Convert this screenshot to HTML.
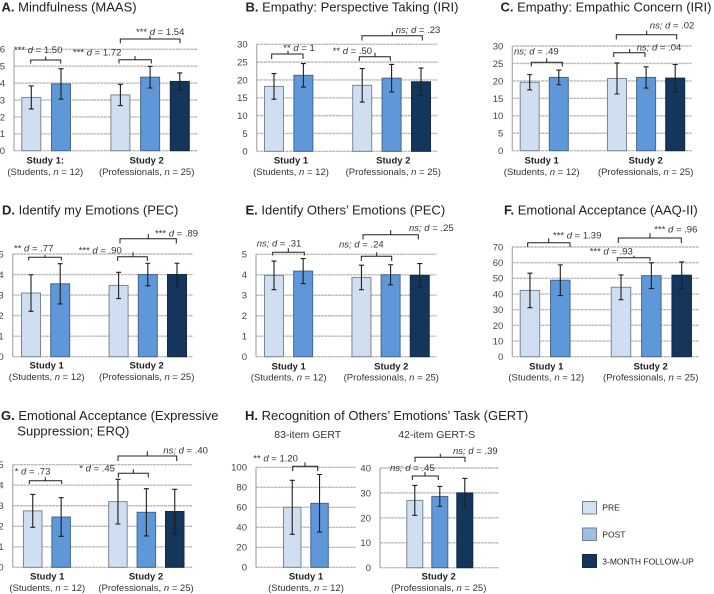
<!DOCTYPE html>
<html lang="en">
<head>
<meta charset="utf-8">
<title>Training outcome bar charts</title>
<style>
html,body{margin:0;padding:0;background:#fff}
svg{display:block;font-family:"Liberation Sans",Arial,sans-serif;filter:blur(.3px)}
.t{font-size:13px;fill:#222}
.t b,.tb{font-weight:bold}
.sub{font-size:10.5px;fill:#333}
.sb{font-size:9.5px;font-weight:bold;fill:#222;text-anchor:middle}
.sn{font-size:9.5px;fill:#333;text-anchor:middle}
.an{font-size:9.5px;fill:#333}
.i{font-style:italic}
.br{fill:none;stroke:#1c1c1c;stroke-width:1}
.lg{font-size:8.5px;fill:#222}
</style>
</head>
<body>
<svg id="chart" xmlns="http://www.w3.org/2000/svg" width="714" height="594" viewBox="0 0 714 594">
<g id="marks"></g>

<text class="t" x="1.5" y="11.5"><tspan class="tb">A.</tspan> Mindfulness (MAAS)</text>
<text class="t" x="245.5" y="11.5"><tspan class="tb">B.</tspan> Empathy: Perspective Taking (IRI)</text>
<text class="t" x="500.5" y="11.5"><tspan class="tb">C.</tspan> Empathy: Empathic Concern (IRI)</text>
<text class="t" x="2" y="214.5"><tspan class="tb">D.</tspan> Identify my Emotions (PEC)</text>
<text class="t" x="245.5" y="214.5"><tspan class="tb">E.</tspan> Identify Others’ Emotions (PEC)</text>
<text class="t" x="504" y="214.5"><tspan class="tb">F.</tspan> Emotional Acceptance (AAQ-II)</text>
<text class="t" x="1" y="420"><tspan class="tb">G.</tspan> Emotional Acceptance (Expressive</text>
<text class="t" x="17.3" y="435.5">Suppression; ERQ)</text>
<text class="t" x="245" y="420"><tspan class="tb">H.</tspan> Recognition of Others’ Emotions’ Task (GERT)</text>
<text class="sub" x="274.3" y="438">83-item GERT</text>
<text class="sub" x="398.3" y="438">42-item GERT-S</text>

<!-- Study labels -->
<text class="sb" x="45.3" y="163.5">Study 1:</text>
<text class="sn" x="45.3" y="175">(Students, <tspan class="i">n</tspan> = 12)</text>
<text class="sb" x="146.7" y="163.5">Study 2</text>
<text class="sn" x="146.7" y="175">(Professionals, <tspan class="i">n</tspan> = 25)</text>

<text class="sb" x="291" y="163.5">Study 1</text>
<text class="sn" x="291" y="175">(Students, <tspan class="i">n</tspan> = 12)</text>
<text class="sb" x="393.3" y="163.5">Study 2</text>
<text class="sn" x="393.3" y="175">(Professionals, <tspan class="i">n</tspan> = 25)</text>

<text class="sb" x="541.7" y="163.5">Study 1</text>
<text class="sn" x="541.7" y="175">(Students, <tspan class="i">n</tspan> = 12)</text>
<text class="sb" x="645.7" y="163.5">Study 2</text>
<text class="sn" x="645.7" y="175">(Professionals, <tspan class="i">n</tspan> = 25)</text>

<text class="sb" x="46.7" y="368.5">Study 1</text>
<text class="sn" x="46.7" y="380">(Students, <tspan class="i">n</tspan> = 12)</text>
<text class="sb" x="146.7" y="368.5">Study 2</text>
<text class="sn" x="146.7" y="380">(Professionals, <tspan class="i">n</tspan> = 25)</text>

<text class="sb" x="288.7" y="369.3">Study 1</text>
<text class="sn" x="288.7" y="380.7">(Students, <tspan class="i">n</tspan> = 12)</text>
<text class="sb" x="391.3" y="369.3">Study 2</text>
<text class="sn" x="391.3" y="380.7">(Professionals, <tspan class="i">n</tspan> = 25)</text>

<text class="sb" x="546.3" y="369.3">Study 1</text>
<text class="sn" x="546.3" y="380.7">(Students, <tspan class="i">n</tspan> = 12)</text>
<text class="sb" x="650.7" y="369.3">Study 2</text>
<text class="sn" x="650.7" y="380.7">(Professionals, <tspan class="i">n</tspan> = 25)</text>

<text class="sb" x="47.3" y="579.5">Study 1</text>
<text class="sn" x="47.3" y="591">(Students, <tspan class="i">n</tspan> = 12)</text>
<text class="sb" x="146" y="579.5">Study 2</text>
<text class="sn" x="146" y="591">(Professionals, <tspan class="i">n</tspan> = 25)</text>

<text class="sb" x="306" y="579.5">Study 1</text>
<text class="sn" x="306" y="591">(Students, <tspan class="i">n</tspan> = 12)</text>
<text class="sb" x="438.7" y="579.5">Study 2</text>
<text class="sn" x="438.7" y="591">(Professionals, <tspan class="i">n</tspan> = 25)</text>

<!-- Brackets -->
<path class="br" d="M30.7 63.5V60H60.7V63.5M45.7 60V56.5"/>
<path class="br" d="M119 63.5V59.7H151.3V63.5M135 59.7V56"/>
<path class="br" d="M120.3 43.3V39H180V43.3M150 39V35.7"/>
<path class="br" d="M271.7 59V54H303V59M288 54V50.7"/>
<path class="br" d="M359.3 61V56.7H390.3V61M375 56.7V52.7"/>
<path class="br" d="M362 40.5V35.7H422.3V40.5M392.3 35.7V31.7"/>
<path class="br" d="M531.3 66.5V62.3H562.3V66.5M546.7 62.3V58.3"/>
<path class="br" d="M613.7 57V52.7H645V57M629.7 52.7V49"/>
<path class="br" d="M616.3 39.5V34.7H676.7V39.5M646.7 34.7V30.7"/>
<path class="br" d="M28.7 260.5V257.3H61.3V260.5M45 257.3V255"/>
<path class="br" d="M117.7 261V256.7H147.3V261M133 256.7V252.3"/>
<path class="br" d="M120 243.5V238.7H176.3V243.5M148.3 238.7V234"/>
<path class="br" d="M272.7 255.5V252.3H304.3V255.5M288.3 252.3V248.3"/>
<path class="br" d="M361.3 261V256.3H391.7V261M376.7 256.3V252.3"/>
<path class="br" d="M363 239.5V234.7H418.3V239.5M390.7 234.7V230"/>
<path class="br" d="M527.7 247V242.7H570V247M548.7 242.7V238.3"/>
<path class="br" d="M617.3 261V257.7H650V261M634 257.7V255.7"/>
<path class="br" d="M618.3 243V238H681.3V243M650 238V233.3"/>
<path class="br" d="M29.3 484V480.7H61.7V484M45.3 480.7V477.3"/>
<path class="br" d="M118.3 477.5V473.3H148.3V477.5M133.3 473.3V469.3"/>
<path class="br" d="M118 461V456H176.7V461M147.3 456V451.3"/>
<path class="br" d="M292.7 471V466.3H317.7V471M305 466.3V462.3"/>
<path class="br" d="M412.3 480V476H438.3V480M425 476V472"/>
<path class="br" d="M415 462V457.3H465V462M440.3 457.3V453.7"/>

<!-- Effect-size annotations -->
<text class="an" x="14" y="53">*** <tspan class="i">d</tspan> = 1.50</text>
<text class="an" x="73" y="55.7">*** <tspan class="i">d</tspan> = 1.72</text>
<text class="an" x="136" y="35">*** <tspan class="i">d</tspan> = 1.54</text>
<text class="an" x="283.3" y="51">** <tspan class="i">d</tspan> = 1</text>
<text class="an" x="332.7" y="54">** <tspan class="i">d</tspan> = .50</text>
<text class="an" x="395.7" y="33"><tspan class="i">ns; d</tspan> = .23</text>
<text class="an" x="514" y="54.7"><tspan class="i">ns; d</tspan> = .49</text>
<text class="an" x="636.7" y="50.3"><tspan class="i">ns; d</tspan> = .04</text>
<text class="an" x="649.7" y="28.3"><tspan class="i">ns; d</tspan> = .02</text>
<text class="an" x="14" y="251.7">** <tspan class="i">d</tspan> = .77</text>
<text class="an" x="78.7" y="253.3">*** <tspan class="i">d</tspan> = .90</text>
<text class="an" x="155" y="236.3">*** <tspan class="i">d</tspan> = .89</text>
<text class="an" x="256.7" y="246.7"><tspan class="i">ns; d</tspan> = .31</text>
<text class="an" x="339" y="247.7"><tspan class="i">ns; d</tspan> = .24</text>
<text class="an" x="409" y="231"><tspan class="i">ns; d</tspan> = .25</text>
<text class="an" x="553" y="238.3">*** <tspan class="i">d</tspan> = 1.39</text>
<text class="an" x="589.7" y="254.3">*** <tspan class="i">d</tspan> = .93</text>
<text class="an" x="654.3" y="232.3">*** <tspan class="i">d</tspan> = .96</text>
<text class="an" x="14.7" y="474.7">* <tspan class="i">d</tspan> = .73</text>
<text class="an" x="79.3" y="471.3">* <tspan class="i">d</tspan> = .45</text>
<text class="an" x="163.3" y="453.3"><tspan class="i">ns; d</tspan> = .40</text>
<text class="an" x="253.3" y="461.3">** <tspan class="i">d</tspan> = 1.20</text>
<text class="an" x="390" y="471"><tspan class="i">ns; d</tspan> = .45</text>
<text class="an" x="453" y="454"><tspan class="i">ns; d</tspan> = .39</text>

<!-- Legend -->
<g>
<rect x="582.5" y="501.5" width="14" height="12.5" fill="#d3e2f3" stroke="#77808a"/>
<text class="lg" x="602.3" y="510.7">PRE</text>
<rect x="582.5" y="528" width="14" height="12.5" fill="#9dbfe6" stroke="#6f8298"/>
<text class="lg" x="602.3" y="537.3">POST</text>
<rect x="582.5" y="554.5" width="14" height="13" fill="#14365a" stroke="#102a48"/>
<text class="lg" x="602.3" y="564.3">3-MONTH FOLLOW-UP</text>
</g>
</svg>

<script>
// Chart data
const conditions = ['pre', 'post', 'pre', 'post', 'followup'];
const studies = [1, 1, 2, 2, 2];

const ticksA = ['0', '1', '2', '3', '4', '5', '6'];
const meansA = [3.15, 3.95, 3.3, 4.35, 4.1];
const errorsA = [0.68, 0.9, 0.63, 0.64, 0.5];

const ticksB = ['0', '5', '10', '15', '20', '25', '30'];
const meansB = [18.2, 21.3, 18.5, 20.5, 19.5];
const errorsB = [3.6, 3.3, 4.7, 3.85, 3.85];

const ticksC = ['0', '5', '10', '15', '20', '25', '30'];
const meansC = [19.6, 21, 20.7, 21, 20.8];
const errorsC = [2.2, 2.1, 4.45, 3.05, 3.9];

const ticksD = ['0', '1', '2', '3', '4', '5'];
const meansD = [3.1, 3.55, 3.47, 4.0, 4.0];
const errorsD = [0.89, 0.98, 0.64, 0.55, 0.55];

const ticksE = ['0', '1', '2', '3', '4', '5'];
const meansE = [3.97, 4.18, 3.87, 4.0, 3.97];
const errorsE = [0.7, 0.61, 0.6, 0.49, 0.58];

const ticksF = ['0', '10', '20', '30', '40', '50', '60', '70'];
const meansF = [42.3, 48.8, 44.3, 51.7, 52];
const errorsF = [11, 9.8, 7.9, 8.2, 8.5];

const ticksG = ['0', '1', '2', '3', '4', '5'];
const meansG = [2.75, 2.45, 3.2, 2.68, 2.72];
const errorsG = [0.8, 0.94, 1.09, 1.15, 1.08];

const conditionsH1 = ['pre', 'post'];
const ticksH1 = ['0', '20', '40', '60', '80', '100'];
const meansH1 = [60, 64];
const errorsH1 = [27, 28.8];

const conditionsH2 = ['pre', 'post', 'followup'];
const ticksH2 = ['0', '10', '20', '30', '40'];
const meansH2 = [27, 28.6, 30];
const errorsH2 = [6, 4, 5.8];

// Pixel frames for each panel (layout, separate from data)
const SVGNS = 'http://www.w3.org/2000/svg';
const fills = {pre: '#cfdff1', post: '#5f98d8', followup: '#14365a'};
const strokes = {pre: '#7b8794', post: '#47678c', followup: '#102a48'};
const marks = document.getElementById('marks');

function make(tag, attrs, parent) {
  const el = document.createElementNS(SVGNS, tag);
  for (const k in attrs) el.setAttribute(k, attrs[k]);
  parent.appendChild(el);
  return el;
}

function drawPanel(id, frame, cats, groups, ticks, means, errors) {
  const g = make('g', {}, marks);
  
  
  const maxTick = Number(ticks[ticks.length - 1]);
  const yOf = v => frame.y0 + (frame.yTop - frame.y0) * (v / maxTick);
  const mixed = groups.indexOf(1) >= 0 && groups.indexOf(2) >= 0;
  const xOf = i => frame.x0 + frame.step * (i + (mixed && groups[i] === 2 ? 1 : 0));

  ticks.forEach(t => {
    const v = Number(t);
    const y = yOf(v);
    const line = make('line', {x1: frame.axis, x2: frame.right, y1: y, y2: y, stroke: '#bcbcbc', 'stroke-width': 1.4, 'stroke-dasharray': '3 0.6'}, g);
    
    
    const label = make('text', {x: frame.axis - 9, y: y + 3.4, 'text-anchor': 'end', 'font-size': '9.5', fill: '#444'}, g);
    label.textContent = t;
    
    
  });

  const axis = make('line', {x1: frame.axis, x2: frame.axis, y1: frame.yTop, y2: frame.y0, stroke: '#b0b0b0', 'stroke-width': 1.3}, g);
  
  

  means.forEach((m, i) => {
    const x = xOf(i);
    const bar = make('rect', {
      x: x + 0.5, y: yOf(m), width: frame.w - 1, height: frame.y0 - yOf(m),
      fill: fills[cats[i]], stroke: strokes[cats[i]], 'stroke-width': 1
    }, g);
    
    
  });

  means.forEach((m, i) => {
    const cx = xOf(i) + frame.w / 2;
    const hi = yOf(m + errors[i]);
    const lo = yOf(m - errors[i]);
    const err = make('path', {
      d: 'M' + (cx - 2.5) + ' ' + hi + 'H' + (cx + 2.5) + 'M' + cx + ' ' + hi + 'V' + lo + 'M' + (cx - 2.5) + ' ' + lo + 'H' + (cx + 2.5),
      fill: 'none', stroke: '#1e1e1e', 'stroke-width': 1.1
    }, g);
    
    
  });
}

drawPanel('a', {axis: 14, right: 198, y0: 150.7, yTop: 49.3, x0: 21.3, step: 29.7, w: 20}, conditions, studies, ticksA, meansA, errorsA);
drawPanel('b', {axis: 256.7, right: 437.7, y0: 151.3, yTop: 44.3, x0: 264, step: 29.4, w: 20}, conditions, studies, ticksB, meansB, errorsB);
drawPanel('c', {axis: 512.3, right: 691.7, y0: 150.7, yTop: 46, x0: 519.7, step: 29.1, w: 20}, conditions, studies, ticksC, meansC, errorsC);
drawPanel('d', {axis: 12.7, right: 193.3, y0: 356.7, yTop: 254, x0: 21, step: 29.2, w: 20}, conditions, studies, ticksD, meansD, errorsD);
drawPanel('e', {axis: 256, right: 436.7, y0: 356.7, yTop: 254.3, x0: 264, step: 29.15, w: 20}, conditions, studies, ticksE, meansE, errorsE);
drawPanel('f', {axis: 512.3, right: 699.3, y0: 356.7, yTop: 247, x0: 519.7, step: 30.35, w: 20.5}, conditions, studies, ticksF, meansF, errorsF);
drawPanel('g', {axis: 12.7, right: 192.7, y0: 567.3, yTop: 464.7, x0: 23, step: 28.4, w: 19.5}, conditions, studies, ticksG, meansG, errorsG);
drawPanel('h1', {axis: 256, right: 355.7, y0: 567.3, yTop: 467.3, x0: 283, step: 27.3, w: 18.5}, conditionsH1, [1, 1], ticksH1, meansH1, errorsH1);
drawPanel('h2', {axis: 380, right: 499, y0: 567.7, yTop: 468, x0: 406.3, step: 25, w: 17}, conditionsH2, [2, 2, 2], ticksH2, meansH2, errorsH2);
</script>
</body>
</html>
